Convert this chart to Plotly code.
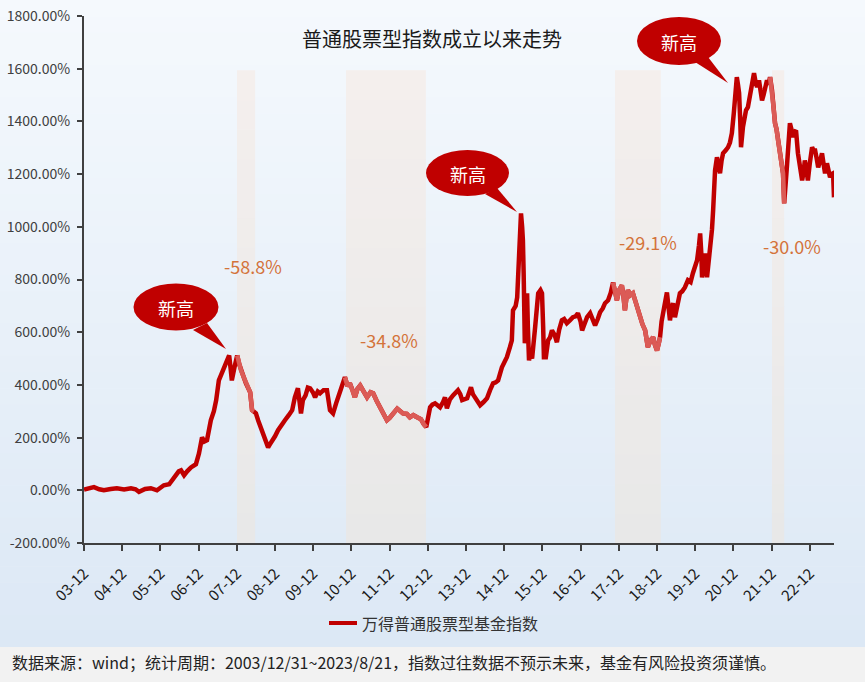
import plotly.graph_objects as go

# ---------------- data ----------------
T = [2004.00, 2004.13, 2004.26, 2004.40, 2004.52, 2004.70, 2004.86, 2005.05, 2005.23, 2005.35,
     2005.44, 2005.60, 2005.75, 2005.91, 2006.00, 2006.09, 2006.23, 2006.33, 2006.41, 2006.48,
     2006.54, 2006.62, 2006.70, 2006.80, 2006.93, 2007.01, 2007.09, 2007.15, 2007.22, 2007.32,
     2007.40, 2007.46, 2007.53, 2007.60, 2007.66, 2007.75, 2007.80, 2007.84, 2007.87, 2007.95,
     2008.01, 2008.06, 2008.11, 2008.18, 2008.24, 2008.30, 2008.35, 2008.40, 2008.45, 2008.50,
     2008.56, 2008.63, 2008.69, 2008.75, 2008.82, 2008.87, 2008.92, 2009.00, 2009.08, 2009.17,
     2009.26, 2009.36, 2009.45, 2009.52, 2009.57, 2009.60, 2009.64, 2009.68, 2009.73, 2009.80,
     2009.86, 2009.92, 2010.00, 2010.05, 2010.12, 2010.18, 2010.27, 2010.36, 2010.44, 2010.52,
     2010.60, 2010.70, 2010.78, 2010.83, 2010.90, 2010.96, 2011.03, 2011.09, 2011.16, 2011.23,
     2011.30, 2011.41, 2011.50, 2011.57, 2011.66, 2011.75, 2011.85, 2011.93, 2012.00, 2012.09,
     2012.20, 2012.35, 2012.45, 2012.53, 2012.62, 2012.72, 2012.82, 2012.90, 2012.96, 2013.06,
     2013.12, 2013.19, 2013.32, 2013.40, 2013.45, 2013.50, 2013.58, 2013.66, 2013.73, 2013.79,
     2013.85, 2013.90, 2014.03, 2014.13, 2014.18, 2014.24, 2014.30, 2014.37, 2014.46, 2014.55,
     2014.63, 2014.71, 2014.78, 2014.84, 2014.94, 2015.02, 2015.07, 2015.15, 2015.20, 2015.23,
     2015.30, 2015.34, 2015.38, 2015.44, 2015.47, 2015.49, 2015.51, 2015.52, 2015.54, 2015.57,
     2015.60, 2015.62, 2015.65, 2015.69, 2015.73, 2015.81, 2015.86, 2015.89, 2015.95, 2015.99,
     2016.02, 2016.04, 2016.09, 2016.15, 2016.20, 2016.25, 2016.32, 2016.38, 2016.44, 2016.51,
     2016.57, 2016.64, 2016.72, 2016.80, 2016.87, 2016.93, 2017.00, 2017.04, 2017.10, 2017.17,
     2017.25, 2017.32, 2017.38, 2017.45, 2017.51, 2017.58, 2017.64, 2017.72, 2017.79, 2017.85,
     2017.90, 2017.95, 2018.01, 2018.08, 2018.12, 2018.16, 2018.20, 2018.24, 2018.30, 2018.37,
     2018.43, 2018.48, 2018.56, 2018.62, 2018.69, 2018.73, 2018.76, 2018.83, 2018.90, 2018.95,
     2019.00, 2019.05, 2019.08, 2019.12, 2019.16, 2019.22, 2019.26, 2019.30, 2019.34, 2019.38,
     2019.42, 2019.47, 2019.54, 2019.60, 2019.66, 2019.73, 2019.81, 2019.88, 2019.94, 2020.00,
     2020.05, 2020.10, 2020.13, 2020.16, 2020.18, 2020.22, 2020.26, 2020.31, 2020.36, 2020.39,
     2020.44, 2020.47, 2020.52, 2020.57, 2020.61, 2020.65, 2020.69, 2020.73, 2020.80, 2020.86,
     2020.91, 2020.96, 2021.01, 2021.04, 2021.09, 2021.12, 2021.15, 2021.18, 2021.20, 2021.25,
     2021.30, 2021.33, 2021.38, 2021.43, 2021.46, 2021.54, 2021.58, 2021.62, 2021.67, 2021.71,
     2021.75, 2021.79, 2021.83, 2021.88, 2021.92, 2021.96, 2022.01, 2022.04, 2022.09, 2022.13,
     2022.17, 2022.21, 2022.25, 2022.30, 2022.33, 2022.37, 2022.40, 2022.44, 2022.48, 2022.52,
     2022.56, 2022.60, 2022.64, 2022.69, 2022.75, 2022.80, 2022.84, 2022.87, 2022.91, 2022.95,
     2023.00, 2023.06, 2023.10, 2023.14, 2023.18, 2023.22, 2023.27, 2023.32, 2023.36, 2023.40,
     2023.45, 2023.49, 2023.53, 2023.57, 2023.61, 2023.634]

V = [3, 8, 12, 4, 0, 5, 8, 3, 8, 4,
     -6, 5, 8, 0, 10, 19, 23, 45, 64, 72,
     76, 57, 72, 87, 99, 140, 201, 185, 190, 266,
     300, 342, 417, 440, 467, 495, 512, 460, 417, 474,
     512, 480, 455, 430, 406, 390, 372, 304, 300, 292,
     265, 239, 216, 190, 163, 175, 190, 205, 228, 250,
     266, 285, 304, 353, 387, 387, 340, 292, 342, 360,
     390, 387, 370, 353, 375, 368, 380, 380, 304, 292,
     330, 368, 400, 429, 395, 406, 380, 353, 385, 398,
     380, 353, 372, 368, 340, 315, 290, 266, 275, 292,
     310, 292, 290, 277, 285, 277, 270, 250, 240, 315,
     325, 330, 315, 335, 353, 311, 345, 360, 370, 380,
     365, 342, 349, 391, 365, 349, 335, 323, 335, 349,
     380, 406, 410, 417, 467, 490, 505, 543, 569, 683,
     700, 732, 911, 1051, 1000, 949, 820, 748, 558, 650,
     748, 620, 493, 520, 500, 619, 700, 748, 760, 748,
     620, 505, 505, 569, 580, 607, 590, 562, 610, 645,
     650, 634, 645, 657, 660, 672, 640, 607, 630, 657,
     672, 650, 626, 650, 676, 690, 710, 721, 750, 789,
     760, 721, 760, 778, 740, 683, 730, 759, 740, 748,
     720, 695, 645, 630, 607, 580, 543, 570, 581, 550,
     531, 560, 581, 640, 683, 720, 751, 700, 645, 690,
     710, 657, 700, 748, 755, 770, 797, 790, 824, 850,
     873, 930, 975, 900, 808, 860, 899, 808, 870, 922,
     990, 1063, 1214, 1264, 1230, 1203, 1250, 1279, 1290, 1302,
     1320, 1355, 1430, 1507, 1568, 1540, 1507, 1400, 1302, 1378,
     1420, 1442, 1454, 1500, 1530, 1583, 1550, 1530, 1556, 1510,
     1480, 1500, 1530, 1556, 1540, 1568, 1520, 1469, 1393, 1370,
     1328, 1290, 1226, 1203, 1089, 1150, 1226, 1310, 1393, 1370,
     1340, 1360, 1366, 1279, 1230, 1176, 1210, 1252, 1220, 1176,
     1240, 1302, 1290, 1290, 1260, 1226, 1250, 1279, 1240, 1203,
     1241, 1215, 1188, 1200, 1203, 1112]

SERIES_NAME = "万得普通股票型基金指数"
DRAWDOWN_PERIODS = [(2008.01, 2008.45), (2010.83, 2012.96), (2017.85, 2019.08), (2021.96, 2022.33)]
SHADED_PERIODS = [(2008.005, 2008.48), (2010.86, 2012.95), (2017.90, 2019.10), (2022.01, 2022.33)]
DRAWDOWN_LABELS = ["-58.8%", "-34.8%", "-29.1%", "-30.0%"]
CALLOUT_TEXT = "新高"

Y_TICKS = [-200, 0, 200, 400, 600, 800, 1000, 1200, 1400, 1600, 1800]
Y_TICK_LABELS = ["-200.00%", "0.00%", "200.00%", "400.00%", "600.00%", "800.00%",
                 "1000.00%", "1200.00%", "1400.00%", "1600.00%", "1800.00%"]
X_TICKS = [2004, 2005, 2006, 2007, 2008, 2009, 2010, 2011, 2012, 2013,
           2014, 2015, 2016, 2017, 2018, 2019, 2020, 2021, 2022, 2023]
X_TICK_LABELS = ["03-12", "04-12", "05-12", "06-12", "07-12", "08-12", "09-12", "10-12",
                 "11-12", "12-12", "13-12", "14-12", "15-12", "16-12", "17-12", "18-12",
                 "19-12", "20-12", "21-12", "22-12"]

TITLE = "普通股票型指数成立以来走势"
FOOTER = "数据来源：wind；统计周期：2003/12/31~2023/8/21，指数过往数据不预示未来，基金有风险投资须谨慎。"

# ---------------- layout geometry ----------------
W, H = 865, 682
ML, MR, MT, MB = 84, 31, 16, 139
PW, PH = W - ML - MR, H - MT - MB
FONT = "Noto Sans CJK SC, Noto Sans, sans-serif"
DARK = "#c00000"
LIGHT = "#db5b56"
ORANGE = "#d4733a"


def px(x):
    return (x - ML) / PW


def py(y):
    return (H - MB - y) / PH


def mix(c1, c2, f):
    a = [int(c1[i:i + 2], 16) for i in (1, 3, 5)]
    b = [int(c2[i:i + 2], 16) for i in (1, 3, 5)]
    return "rgb(%d,%d,%d)" % tuple(round(a[k] + (b[k] - a[k]) * f) for k in range(3))


fig = go.Figure()

fig.add_trace(go.Scatter(x=T, y=V, mode="lines", name=SERIES_NAME,
                         line=dict(color=DARK, width=4.5), showlegend=False,
                         hoverinfo="skip"))
for a, b in DRAWDOWN_PERIODS:
    xs = [t for t in T if a <= t <= b]
    ys = [v for t, v in zip(T, V) if a <= t <= b]
    fig.add_trace(go.Scatter(x=xs, y=ys, mode="lines", line=dict(color=LIGHT, width=4.5),
                             showlegend=False, hoverinfo="skip"))

shapes = []
# background gradient
N = 40
top_y, bot_y = 0, 647
for i in range(N):
    y0 = top_y + (bot_y - top_y) * i / N
    y1 = top_y + (bot_y - top_y) * (i + 1) / N
    shapes.append(dict(type="rect", xref="paper", yref="paper", layer="below",
                       x0=px(0), x1=px(W), y0=py(y1) - 0.001, y1=py(y0),
                       fillcolor=mix("#f5f9fd", "#dce8f5", (i + 0.5) / N), line=dict(width=0)))
# footer band
shapes.append(dict(type="rect", xref="paper", yref="paper", layer="below",
                   x0=px(0), x1=px(W), y0=py(H), y1=py(bot_y),
                   fillcolor="#f2f2f2", line=dict(width=0)))
# shaded drawdown periods (vertical gradient)
BAND_TOP = 1592
NB = 16
for a, b in SHADED_PERIODS:
    for i in range(NB):
        y0 = -200 + (BAND_TOP + 200) * i / NB
        y1 = -200 + (BAND_TOP + 200) * (i + 1) / NB
        shapes.append(dict(type="rect", xref="x", yref="y", layer="below",
                           x0=a, x1=b, y0=y0, y1=y1 + 2,
                           fillcolor=mix("#e8e8e8", "#f4efed", (i + 0.5) / NB),
                           line=dict(width=0)))

# callout bubbles
callouts = [
    dict(ell=(133.5, 218.5, 283.5, 330.5), base=((193, 330), (207, 323)), tip=(226, 349)),
    dict(ell=(426, 509, 150, 196), base=((485, 194), (497, 188)), tip=(517, 212)),
    dict(ell=(637, 721, 17, 65), base=((695, 62), (708, 57)), tip=(728, 83)),
]
annotations = []
for c in callouts:
    x0, x1, y0, y1 = c["ell"]
    (bx1, by1), (bx2, by2) = c["base"]
    tx, ty = c["tip"]
    shapes.append(dict(type="path", xref="paper", yref="paper", layer="above",
                       path="M %f %f L %f %f L %f %f Z" % (px(bx1), py(by1), px(tx), py(ty), px(bx2), py(by2)),
                       fillcolor=DARK, line=dict(width=0)))
    shapes.append(dict(type="circle", xref="paper", yref="paper", layer="above",
                       x0=px(x0), x1=px(x1), y0=py(y1), y1=py(y0),
                       fillcolor=DARK, line=dict(width=0)))
    annotations.append(dict(xref="paper", yref="paper", x=px((x0 + x1) / 2), y=py((y0 + y1) / 2 + 1),
                            text=CALLOUT_TEXT, showarrow=False,
                            font=dict(family=FONT, size=18, color="white"),
                            xanchor="center", yanchor="middle"))

# drawdown labels
label_pos = [(253, 266), (389, 340), (648, 242), (792, 246)]
for txt, (lx, ly) in zip(DRAWDOWN_LABELS, label_pos):
    annotations.append(dict(xref="paper", yref="paper", x=px(lx), y=py(ly), text=txt,
                            showarrow=False, xanchor="center", yanchor="middle",
                            font=dict(family=FONT, size=18, color=ORANGE)))

# title
annotations.append(dict(xref="paper", yref="paper", x=px(432), y=py(38), text=TITLE,
                        showarrow=False, xanchor="center", yanchor="middle",
                        font=dict(family=FONT, size=20, color="#1a1a1a")))

# legend (manual)
shapes.append(dict(type="line", xref="paper", yref="paper", layer="above",
                   x0=px(329), x1=px(357), y0=py(623), y1=py(623),
                   line=dict(color=DARK, width=4)))
annotations.append(dict(xref="paper", yref="paper", x=px(360), y=py(623), text=SERIES_NAME,
                        showarrow=False, xanchor="left", yanchor="middle",
                        font=dict(family=FONT, size=16, color="#333333")))

# footer text
annotations.append(dict(xref="paper", yref="paper", x=px(10), y=py(662), text=FOOTER,
                        showarrow=False, xanchor="left", yanchor="middle",
                        font=dict(family=FONT, size=16, color="#222222")))

fig.update_layout(
    width=W, height=H,
    margin=dict(l=ML, r=MR, t=MT, b=MB, pad=0, autoexpand=False),
    paper_bgcolor="#f5f9fd",
    plot_bgcolor="rgba(0,0,0,0)",
    shapes=shapes,
    annotations=annotations,
    showlegend=False,
    xaxis=dict(range=[2004.0, 2023.634], tickvals=X_TICKS, ticktext=X_TICK_LABELS,
               tickangle=-45, showgrid=False, zeroline=False, showline=True,
               linecolor="#404040", linewidth=2, ticks="outside", ticklen=6,
               tickwidth=2, tickcolor="#404040", automargin=False, ticklabelstandoff=8,
               tickfont=dict(family=FONT, size=15, color="#1a1a1a")),
    yaxis=dict(range=[-200, 1800], tickvals=Y_TICKS, ticktext=Y_TICK_LABELS,
               showgrid=False, zeroline=False, showline=True,
               linecolor="#404040", linewidth=2, ticks="outside", ticklen=5,
               tickwidth=2, tickcolor="#404040", ticklabelstandoff=4, automargin=False,
               tickfont=dict(family=FONT, size=14, color="#404040")),
)

fig.write_html("out.html", config={"displayModeBar": False},
               post_script="document.body.style.margin='0px';document.body.style.overflow='hidden';")
